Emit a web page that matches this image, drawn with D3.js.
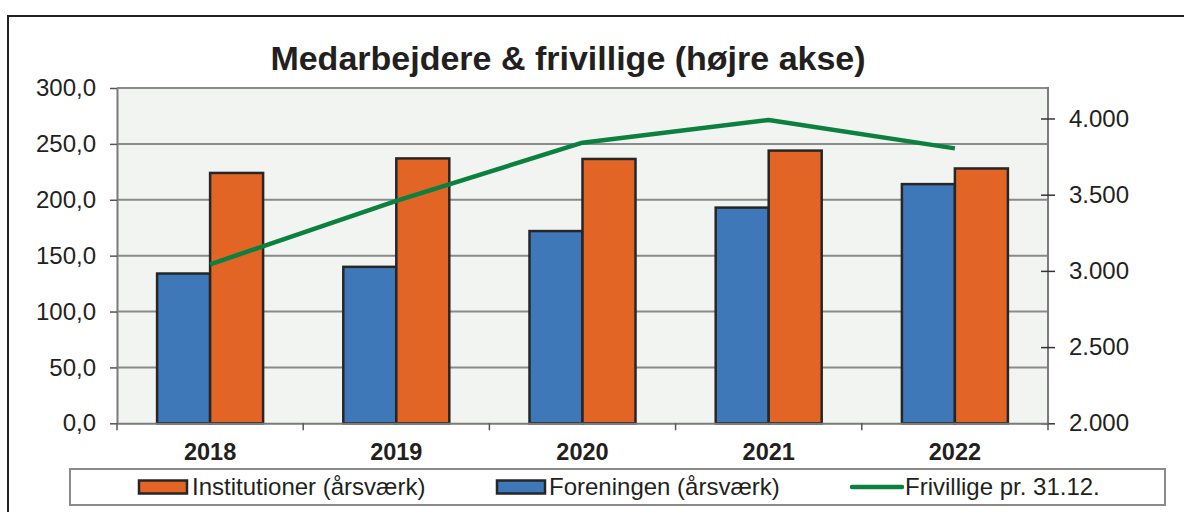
<!DOCTYPE html>
<html>
<head>
<meta charset="utf-8">
<script src="https://cdn.jsdelivr.net/npm/d3@7"></script>
<style>
  html, body { margin: 0; padding: 0; background: #fff; }
  svg { display: block; font-family: "Liberation Sans", Arial, sans-serif; }
</style>
</head>
<body>
<svg id="chart" width="1184" height="512"></svg>
<script>
// ---- data ----
const years = ["2018", "2019", "2020", "2021", "2022"];
const foreningen = [134, 140, 172, 193, 214];
const institutioner = [224, 237, 236.5, 244, 228];
const frivillige = [3043, 3460, 3841, 3990, 3804];
const leftTicks = [0, 50, 100, 150, 200, 250, 300];
const rightTicks = [2000, 2500, 3000, 3500, 4000];
const seriesNames = ["Institutioner (årsværk)", "Foreningen (årsværk)", "Frivillige pr. 31.12."];

// ---- styles ----
const C = { orange: "#e36526", blue: "#3e78b8", green: "#0b803f", text: "#231f20",
            grid: "#8a8a8a", plotBg: "#f2f4f2", barStroke: "#262626" };

const svg = d3.select("#chart");
const L = 117, R = 1048, T = 88, B = 423.3;

// outer frame
svg.append("rect").attr("x", 8).attr("y", 16).attr("width", 1200).attr("height", 520)
  .attr("fill", "#fff").attr("stroke", "#222").attr("stroke-width", 2);

// title
svg.append("text").attr("x", 568).attr("y", 70).attr("text-anchor", "middle")
  .attr("font-size", 34).attr("font-weight", "bold").attr("fill", C.text)
  .text("Medarbejdere & frivillige (højre akse)");

// scales
const x0 = d3.scaleBand().domain(years).range([L, R]).paddingInner(0.4307).paddingOuter(0.4307 / 2);
const x1 = d3.scaleBand().domain(["f", "i"]).range([0, x0.bandwidth()]);
const yL = d3.scaleLinear().domain([0, 300]).range([B, T]);
const yR = d3.scaleLinear().domain([2000, 4200]).range([B, T]);

// plot background
svg.append("rect").attr("x", L).attr("y", T).attr("width", R - L).attr("height", B - T)
  .attr("fill", C.plotBg);

// gridlines
svg.append("g").selectAll("line").data(leftTicks.filter(d => d > 0)).join("line")
  .attr("x1", L).attr("x2", R).attr("y1", d => yL(d)).attr("y2", d => yL(d))
  .attr("stroke", C.grid).attr("stroke-width", 2);

// right border of plot
svg.append("line").attr("x1", R).attr("x2", R).attr("y1", T - 1).attr("y2", B)
  .attr("stroke", "#7a7a7a").attr("stroke-width", 2);

// bars
const g = svg.append("g");
years.forEach((yr, i) => {
  const vals = [{ k: "f", v: foreningen[i], c: C.blue }, { k: "i", v: institutioner[i], c: C.orange }];
  g.selectAll(null).data(vals).join("rect")
    .attr("x", d => x0(yr) + x1(d.k))
    .attr("y", d => yL(d.v))
    .attr("width", x1.bandwidth())
    .attr("height", d => B - yL(d.v))
    .attr("fill", d => d.c)
    .attr("stroke", C.barStroke).attr("stroke-width", 2.5);
});

// line
const line = d3.line().x((d, i) => x0(years[i]) + x0.bandwidth() / 2).y(d => yR(d));
svg.append("path").datum(frivillige).attr("d", line)
  .attr("fill", "none").attr("stroke", C.green).attr("stroke-width", 4.5)
  .attr("stroke-linejoin", "round");

// left axis
const fmtL = d => d3.format(".1f")(d).replace(".", ",");
const axL = svg.append("g").attr("transform", `translate(${L},0)`)
  .call(d3.axisLeft(yL).tickValues(leftTicks).tickFormat(fmtL).tickSizeInner(7).tickSizeOuter(0).tickPadding(14));
axL.select(".domain").attr("stroke", "#7a7a7a").attr("stroke-width", 2);
axL.selectAll(".tick line").attr("stroke", "#555").attr("stroke-width", 1.5);
axL.selectAll(".tick text").attr("font-size", 24).attr("fill", C.text).attr("font-family", "Liberation Sans, Arial, sans-serif");

// right axis
const fmtR = d => d3.format(",")(d).replace(",", ".");
const axR = svg.append("g").attr("transform", `translate(${R},0)`)
  .call(d3.axisRight(yR).tickValues(rightTicks).tickFormat(fmtR).tickSizeInner(7).tickSizeOuter(0).tickPadding(14));
axR.select(".domain").remove();
axR.selectAll(".tick line").attr("x1", -7).attr("x2", 7).attr("stroke", "#333").attr("stroke-width", 1.5);
axR.selectAll(".tick text").attr("font-size", 24).attr("fill", C.text).attr("font-family", "Liberation Sans, Arial, sans-serif");

// bottom axis
const axB = svg.append("g").attr("transform", `translate(0,${B})`)
  .call(d3.axisBottom(x0).tickSize(0).tickPadding(0));
axB.select(".domain").attr("stroke", "#7a7a7a").attr("stroke-width", 2);
axB.selectAll(".tick text").attr("y", 37).attr("dy", 0).attr("font-size", 23.5).attr("font-weight", "bold")
  .attr("fill", C.text).attr("font-family", "Liberation Sans, Arial, sans-serif");
const gap = (x0.step() - x0.bandwidth()) / 2;
const bounds = years.map(y => x0(y) - gap).concat([R]);
axB.selectAll(".bt").data(bounds).join("line").attr("class", "bt")
  .attr("x1", d => d).attr("x2", d => d).attr("y1", 0).attr("y2", 7)
  .attr("stroke", "#555").attr("stroke-width", 1.5);

// legend
const lg = svg.append("g");
lg.append("rect").attr("x", 70).attr("y", 469).attr("width", 1095).attr("height", 36)
  .attr("fill", "#fff").attr("stroke", "#8a8a8a").attr("stroke-width", 2);
const legendItems = [
  { name: seriesNames[0], type: "rect", c: C.orange, sx: 139, tx: 192 },
  { name: seriesNames[1], type: "rect", c: C.blue, sx: 497, tx: 549 },
  { name: seriesNames[2], type: "line", c: C.green, sx: 852, tx: 905 }
];
legendItems.forEach(it => {
  if (it.type === "rect") {
    lg.append("rect").attr("x", it.sx).attr("y", 480.5).attr("width", 48).attr("height", 13)
      .attr("fill", it.c).attr("stroke", C.barStroke).attr("stroke-width", 2.5);
  } else {
    lg.append("line").attr("x1", it.sx).attr("x2", it.sx + 50).attr("y1", 487).attr("y2", 487)
      .attr("stroke", it.c).attr("stroke-width", 4.5).attr("stroke-linecap", "round");
  }
  lg.append("text").attr("x", it.tx).attr("y", 494.5).attr("font-size", 24).attr("fill", C.text)
    .text(it.name);
});
</script>
</body>
</html>
